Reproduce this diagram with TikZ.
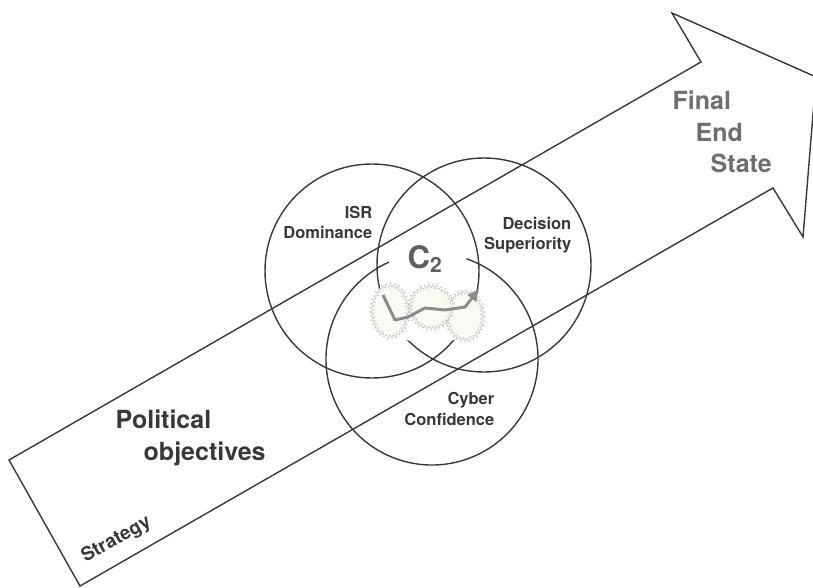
\documentclass[tikz,border=0pt]{standalone}
\usepackage{fontspec}
\setsansfont{TeX Gyre Heros}
\usepackage{tikz}
\usetikzlibrary{arrows.meta,decorations.pathmorphing}
\definecolor{ink}{HTML}{383838}
\definecolor{softink}{HTML}{6E6E6E}
\definecolor{flowgray}{HTML}{8C8C8C}
\definecolor{cloudedge}{HTML}{BDBDBD}
\definecolor{cloudfill}{HTML}{FAFAF5}

\begin{document}
\begin{tikzpicture}[x=1pt,y=-1pt,line width=1.4pt,
  every node/.style={inner sep=0pt,font=\sffamily\bfseries,text=ink},
  biglabel/.style={font=\sffamily\bfseries\fontsize{25}{30}\selectfont,anchor=base west},
  ringlabel/.style={font=\sffamily\bfseries\fontsize{16.5}{20}\selectfont,anchor=base east},
  blob/.style={draw=cloudedge,fill=cloudfill,line width=1pt,densely dotted,
    decorate,decoration={zigzag,segment length=4pt,amplitude=2pt}}]
  \useasboundingbox (0,0) rectangle (813,588);
  % strategy arrow
  \draw[ink] (9,460) -- (701,62) -- (672,13) -- (816,77) -- (803,237) -- (773,188) -- (80,586) -- cycle;
  % the three rings, cyber one open under C2
  \draw[ink] (372,271) circle [radius=107];
  \draw[ink] (484,265) circle [radius=107];
  \draw[ink] (432,359) ++(-71:106) arc [start angle=-71,end angle=246,radius=106];
  % cloud in the middle
  \fill[white] (430,313) ellipse [x radius=54,y radius=30];
  \path[blob] (390,311) ellipse [x radius=18,y radius=26];
  \path[blob] (465,316) ellipse [x radius=18,y radius=24];
  \path[blob] (431,307) ellipse [x radius=21,y radius=21];
  \draw[flowgray,line width=3pt,line join=round,-{Triangle[length=12pt,width=10pt]}]
    (383,295) -- (395,320) -- (408,317) -- (425,308) -- (445,310) -- (465,307) -- (479,289);
  % labels
  \node[biglabel] (pol1) at (115,428) {Political};
  \node[biglabel] (pol2) at (143,460) {objectives};
  \node[biglabel,text=softink] (fin1) at (672,110) {Final};
  \node[biglabel,text=softink] (fin2) at (695,142) {End};
  \node[biglabel,text=softink] (fin3) at (710,173) {State};
  \node[ringlabel] (isr1) at (373,218) {ISR};
  \node[ringlabel] (isr2) at (373,238) {Dominance};
  \node[ringlabel] (dec1) at (572,229) {Decision};
  \node[ringlabel] (dec2) at (572,249) {Superiority};
  \node[ringlabel] (cyb1) at (495,404) {Cyber};
  \node[ringlabel] (cyb2) at (495,425) {Confidence};
  \node[font=\sffamily\bfseries\fontsize{31}{36}\selectfont,text=softink!85!black,anchor=base west] (ctwo) at (407,268)
    {C\raisebox{-4pt}{\fontsize{21}{24}\selectfont 2}};
  \node[font=\sffamily\bfseries\fontsize{19}{22}\selectfont,rotate=29,anchor=base west] (strat) at (85,563) {Strategy};
\end{tikzpicture}
\end{document}
